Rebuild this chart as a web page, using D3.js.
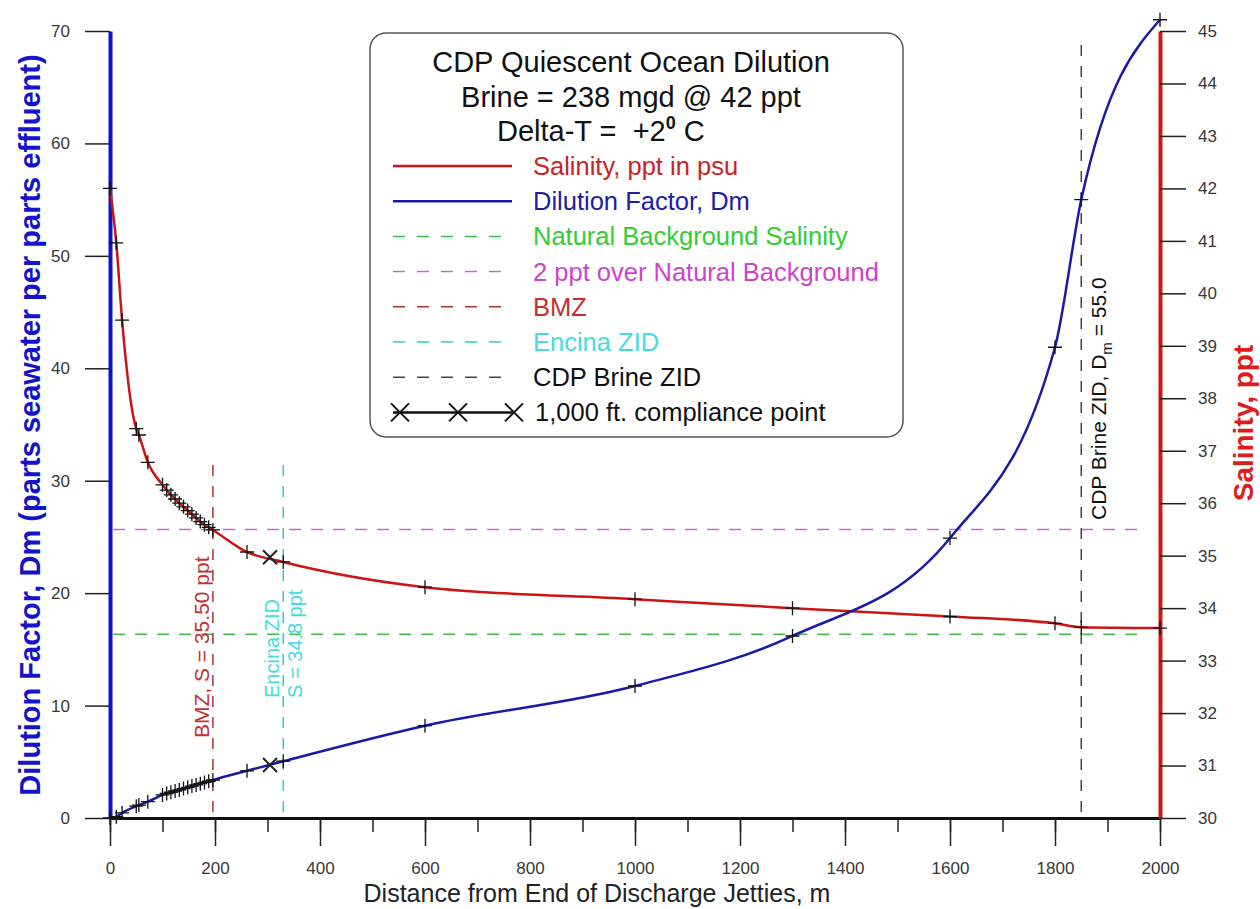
<!DOCTYPE html>
<html>
<head>
<meta charset="utf-8">
<script src="https://cdn.jsdelivr.net/npm/d3@7"></script>
<style>
  body { margin: 0; background: #fff; }
  svg { font-family: Arial, "Liberation Sans", sans-serif; }
</style>
</head>
<body>
<script>
// values
var distance = [0, 12, 23, 50, 55, 72, 100, 108, 116, 124, 132, 140, 148, 156, 164, 172, 180, 188, 196, 261, 330, 600, 1000, 1300, 1600, 1800, 1850, 2000];
var salinity = [42.0, 40.96, 39.49, 37.42, 37.30, 36.78, 36.35, 36.25, 36.16, 36.08, 36.0, 35.93, 35.86, 35.79, 35.72, 35.65, 35.59, 35.54, 35.49, 35.07, 34.88, 34.40, 34.17, 34.0, 33.84, 33.71, 33.635, 33.62];
var dilution = [0, 0.12, 0.45, 1.05, 1.15, 1.45, 2.05, 2.18, 2.29, 2.40, 2.50, 2.62, 2.73, 2.84, 2.94, 3.05, 3.16, 3.27, 3.38, 4.2, 5.05, 8.21, 11.74, 16.19, 24.9, 41.87, 55.0, 71.0];

var compliance = { x: 304.8, salinity: 34.97, dilution: 4.71 };
var background = 33.5, overBackground = 35.5;
var bmzX = 196, encinaX = 330, cdpX = 1850;

var xTicks = [0, 200, 400, 600, 800, 1000, 1200, 1400, 1600, 1800, 2000];
var leftTicks = [0, 10, 20, 30, 40, 50, 60, 70];
var rightTicks = [30, 31, 32, 33, 34, 35, 36, 37, 38, 39, 40, 41, 42, 43, 44, 45];

var legendTitle = ["CDP Quiescent Ocean Dilution", "Brine = 238 mgd @ 42 ppt"];
var legendItems = [
  { label: "Salinity, ppt in psu", stroke: "#cc1414", text: "#cc2222", dash: null },
  { label: "Dilution Factor, Dm", stroke: "#1a1aa8", text: "#1c1caa", dash: null },
  { label: "Natural Background Salinity", stroke: "#44bb44", text: "#33cc33", dash: "12,12" },
  { label: "2 ppt over Natural Background", stroke: "#cc66cc", text: "#cc44cc", dash: "12,12" },
  { label: "BMZ", stroke: "#a83434", text: "#c43030", dash: "12,12" },
  { label: "Encina ZID", stroke: "#33cccc", text: "#44dddd", dash: "12,12" },
  { label: "CDP Brine ZID", stroke: "#444", text: "#111", dash: "12,12" },
  { label: "1,000 ft. compliance point", stroke: "#111", text: "#111", dash: null, cross: true }
];

var svg = d3.select("body").append("svg").attr("width", 1260).attr("height", 909);

var x = d3.scaleLinear().domain([0, 2000]).range([110, 1160]);
var yL = d3.scaleLinear().domain([0, 70]).range([818, 31]);
var yR = d3.scaleLinear().domain([30, 45]).range([818, 31]);

// reference lines
function hline(v, color) {
  svg.append("line").attr("x1", x(6)).attr("x2", x(1975)).attr("y1", yR(v)).attr("y2", yR(v))
    .attr("stroke", color).attr("stroke-width", 1.5).attr("stroke-dasharray", "12,10");
}
hline(background, "#44bb44");
hline(overBackground, "#cc66cc");

function vline(v, top, color) {
  svg.append("line").attr("x1", x(v)).attr("x2", x(v)).attr("y1", top).attr("y2", 818)
    .attr("stroke", color).attr("stroke-width", 1.5).attr("stroke-dasharray", "11,10");
}
vline(bmzX, 465, "#a83434");
vline(encinaX, 465, "#33cccc");
vline(cdpX, 45, "#444");

// labels along the vertical lines
svg.append("text").attr("transform", "translate(209,738) rotate(-90)")
  .attr("font-size", 21).attr("fill", "#c43030").text("BMZ, S = 35.50 ppt");
var enc = svg.append("text").attr("transform", "translate(279,698) rotate(-90)")
  .attr("font-size", 20).attr("fill", "#44dddd");
enc.append("tspan").attr("x", 0).text("Encina ZID");
enc.append("tspan").attr("x", 0).attr("dy", "1.15em").text("S = 34.8 ppt");
var cdp = svg.append("text").attr("transform", "translate(1106,520) rotate(-90)")
  .attr("font-size", 21).attr("fill", "#111");
cdp.append("tspan").text("CDP Brine ZID, D");
cdp.append("tspan").attr("font-size", 15).attr("dy", 6).text("m");
cdp.append("tspan").attr("dy", -6).text(" = 55.0");

// axes
var xMinor = svg.append("g").attr("transform", "translate(0,818)")
  .call(d3.axisBottom(x).tickValues(d3.range(0, 2001, 100)).tickSize(14).tickSizeOuter(0).tickFormat(""));
xMinor.select(".domain").remove();
var xAxis = svg.append("g").attr("transform", "translate(0,818)")
  .call(d3.axisBottom(x).tickValues(xTicks).tickSize(28).tickPadding(16).tickSizeOuter(0).tickFormat(d3.format("d")));
xAxis.select(".domain").attr("stroke", "#111").attr("stroke-width", 3);

var left = svg.append("g").attr("transform", "translate(110,0)")
  .call(d3.axisLeft(yL).tickValues(leftTicks).tickSize(25).tickPadding(15).tickSizeOuter(0));
left.select(".domain").attr("stroke", "#1010d0").attr("stroke-width", 4);

var right = svg.append("g").attr("transform", "translate(1160,0)")
  .call(d3.axisRight(yR).tickValues(rightTicks).tickSize(26).tickPadding(12).tickSizeOuter(0));
right.select(".domain").attr("stroke", "#d01818").attr("stroke-width", 4);

svg.selectAll(".tick line").attr("stroke", "#222").attr("stroke-width", 1.5);
svg.selectAll(".tick text").attr("font-size", 17).attr("fill", "#383838")
  .attr("font-family", "Arial, 'Liberation Sans', sans-serif");

// curves
var pts = distance.map(function (d, i) { return { d: d, s: salinity[i], m: dilution[i] }; });

svg.append("path").datum(pts).attr("fill", "none").attr("stroke", "#cc1414").attr("stroke-width", 2.5)
  .attr("d", d3.line().x(function (p) { return x(p.d); }).y(function (p) { return yR(p.s); }).curve(d3.curveMonotoneX));
svg.append("path").datum(pts).attr("fill", "none").attr("stroke", "#1a1aa8").attr("stroke-width", 2.5)
  .attr("d", d3.line().x(function (p) { return x(p.d); }).y(function (p) { return yL(p.m); }).curve(d3.curveMonotoneX));

// markers
var plus = "M-7,0H7M0,-7V7";
var cross = "M-7,-7L7,7M7,-7L-7,7";
svg.selectAll(".ms").data(pts).enter().append("path")
  .attr("transform", function (p) { return "translate(" + x(p.d) + "," + yR(p.s) + ")"; })
  .attr("d", plus).attr("stroke", "#111").attr("stroke-width", 1.3);
svg.selectAll(".md").data(pts).enter().append("path")
  .attr("transform", function (p) { return "translate(" + x(p.d) + "," + yL(p.m) + ")"; })
  .attr("d", plus).attr("stroke", "#111").attr("stroke-width", 1.3);
svg.append("path").attr("transform", "translate(" + x(compliance.x) + "," + yR(compliance.salinity) + ")")
  .attr("d", cross).attr("stroke", "#222").attr("stroke-width", 2);
svg.append("path").attr("transform", "translate(" + x(compliance.x) + "," + yL(compliance.dilution) + ")")
  .attr("d", cross).attr("stroke", "#222").attr("stroke-width", 2);

// axis titles
svg.append("text").attr("transform", "translate(40,425) rotate(-90)").attr("text-anchor", "middle")
  .attr("font-size", 29).attr("font-weight", "bold").attr("fill", "#1414c8")
  .text("Dilution Factor, Dm (parts seawater per parts effluent)");
svg.append("text").attr("transform", "translate(1253,423) rotate(-90)").attr("text-anchor", "middle")
  .attr("font-size", 28).attr("font-weight", "bold").attr("fill", "#dd1c1c").text("Salinity, ppt");
svg.append("text").attr("x", 597).attr("y", 902).attr("text-anchor", "middle")
  .attr("font-size", 25).attr("fill", "#222").text("Distance from End of Discharge Jetties, m");

// legend
var lg = svg.append("g");
lg.append("rect").attr("x", 370).attr("y", 33).attr("width", 533).attr("height", 404)
  .attr("rx", 16).attr("fill", "#fff").attr("stroke", "#555").attr("stroke-width", 1.5);
legendTitle.forEach(function (t, i) {
  lg.append("text").attr("x", 631).attr("y", 72 + i * 35).attr("text-anchor", "middle")
    .attr("font-size", 29).attr("fill", "#111").text(t);
});
var dt = lg.append("text").attr("x", 497).attr("y", 141)
  .attr("font-size", 29).attr("fill", "#111").attr("xml:space", "preserve");
dt.append("tspan").text("Delta-T =\u00a0 +2");
dt.append("tspan").attr("font-size", 18).attr("font-weight", "bold").attr("dy", -12).text("0");
dt.append("tspan").attr("dy", 12).text(" C");

legendItems.forEach(function (it, i) {
  var cy = 166 + i * 35.2;
  lg.append("line").attr("x1", 393).attr("x2", it.cross ? 514 : 512).attr("y1", cy).attr("y2", cy)
    .attr("stroke", it.stroke).attr("stroke-width", it.dash ? 1.5 : 2.5)
    .attr("stroke-dasharray", it.dash);
  if (it.cross) {
    [400, 458, 514].forEach(function (cx) {
      lg.append("path").attr("transform", "translate(" + cx + "," + cy + ")")
        .attr("d", "M-9,-9L9,9M9,-9L-9,9").attr("stroke", "#111").attr("stroke-width", 2);
    });
  }
  lg.append("text").attr("x", it.cross ? 535 : 533).attr("y", cy).attr("dy", "0.35em")
    .attr("font-size", 25.5).attr("fill", it.text).text(it.label);
});
</script>
</body>
</html>
